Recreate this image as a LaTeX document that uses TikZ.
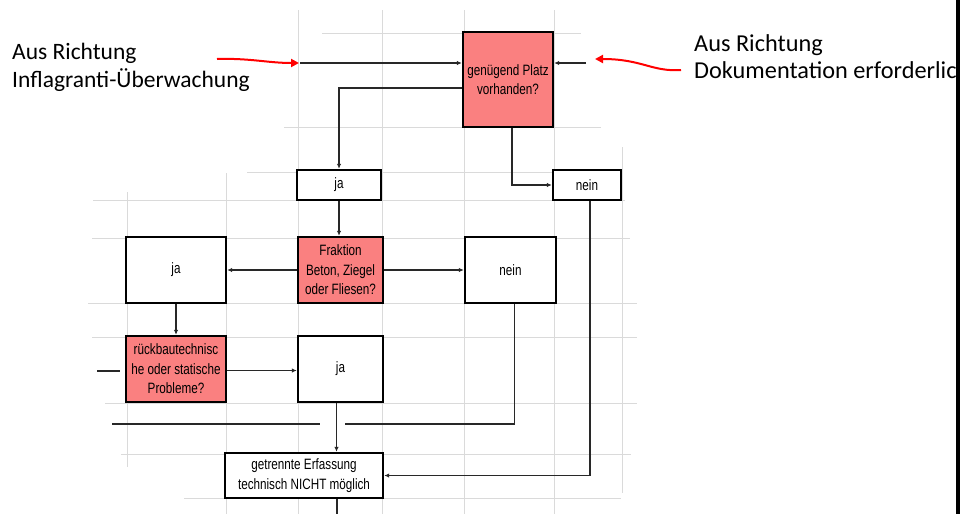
\documentclass[tikz,border=0pt]{standalone}
\usepackage{fontspec}
\setmainfont{Carlito}
\newfontfamily\boxfont[FakeStretch=0.78]{Liberation Sans}
\usetikzlibrary{arrows.meta}
\definecolor{feldrot}{RGB}{250,128,128}
\definecolor{gitter}{RGB}{218,218,218}
\definecolor{strich}{RGB}{40,40,40}

\begin{document}
\begin{tikzpicture}[x=1pt,y=-1pt,
	kasten/.style={draw=black,line width=2.4pt,fill=white,inner sep=0pt,align=center,
		font=\boxfont\fontsize{15}{19.5}\selectfont},
	frage/.style={kasten,fill=feldrot},
	pfeil/.style={draw=strich,line width=1.1pt,-{Latex[length=5pt,width=4.5pt]}},
	strecke/.style={draw=strich,line width=1.1pt},
	rotpfeil/.style={draw=red,line width=2pt,-{Triangle[length=8pt,width=8pt]}},
	beschriftung/.style={align=left,anchor=base west,inner sep=0pt}]
	
	\useasboundingbox (0,0) rectangle (965,514);
	
	% grid
	\foreach \x/\ya/\yb in {127/192/467, 226/173/514, 298/10/514, 382/10/514, 464/10/514, 554/10/514, 622/147/493}
		\draw[gitter,line width=1pt] (\x,\ya) -- (\x,\yb);
	\foreach \y/\xa/\xb in {33/322/581, 127/284/601, 172/247/623, 200/93/625, 238/92/630, 303/88/637, 337/92/637, 403/105/637, 454/121/631, 498/184/621}
		\draw[gitter,line width=1pt] (\xa,\y) -- (\xb,\y);
	
	\node[frage]  (platz)    at (508,79.5)  [minimum width=90pt,minimum height=95pt] {genügend Platz\\vorhanden?};
	\node[kasten] (ja1)      at (339,185)   [minimum width=84pt,minimum height=30pt] {ja};
	\node[kasten] (nein1)    at (587,185)   [minimum width=68pt,minimum height=30pt] {nein};
	\node[frage]  (fraktion) at (340.5,270) [minimum width=85pt,minimum height=66pt] {Fraktion\\Beton, Ziegel\\oder Fliesen?};
	\node[kasten] (ja2)      at (176,270)   [minimum width=100pt,minimum height=66pt] {ja};
	\node[kasten] (nein2)    at (510.5,270) [minimum width=91pt,minimum height=66pt] {nein};
	\node[frage]  (rueck)    at (176,369)   [minimum width=100pt,minimum height=66pt] {rückbautechnisc\\he oder statische\\Probleme?};
	\node[kasten] (ja3)      at (340.5,369) [minimum width=85pt,minimum height=66pt] {ja};
	\node[kasten] (getrennt) at (304,475.5) [minimum width=158pt,minimum height=45pt] {getrennte Erfassung\\technisch NICHT möglich};
	
	\coordinate (vonLinks)  at (300,63);
	\coordinate (vonRechts) at (586,63);
	\coordinate (stubA)     at (97,371);
	\coordinate (stubB)     at (120,371);
	\coordinate (querL)     at (112,424);
	\coordinate (querM)     at (320,424);
	\coordinate (querR)     at (345,424);
	\coordinate (ausgang)   at (337,514);
	
	\draw[pfeil] (vonLinks) -- (vonLinks -| platz.west);
	\draw[pfeil] (vonRechts) -- (vonRechts -| platz.east);
	\draw[pfeil] ([yshift=-8.5pt]platz.west) -| (ja1.north);
	\draw[pfeil] ([xshift=4pt]platz.south) |- (nein1.west);
	\draw[pfeil] (ja1.south) -- (ja1.south |- fraktion.north);
	\draw[pfeil] (fraktion.west) -- (ja2.east);
	\draw[pfeil] (fraktion.east) -- (nein2.west);
	\draw[pfeil] (ja2.south) -- (rueck.north);
	\draw[pfeil] ([yshift=-1.5pt]rueck.east) -- ([yshift=-1.5pt]ja3.west);
	\draw[strecke] (stubA) -- (stubB);
	\draw[pfeil] ([xshift=-4pt]ja3.south) -- ([xshift=-4pt]ja3.south |- getrennt.north);
	\draw[strecke] ([xshift=4pt]nein2.south) |- (querR);
	\draw[strecke] (querL) -- (querM);
	\draw[pfeil] ([xshift=3pt]nein1.south) |- (getrennt.east);
	\draw[strecke] (getrennt.south -| ausgang) -- (ausgang);
	
	% labels
	\node[beschriftung,font=\fontsize{23.5}{28}\selectfont] (links)  at (12,87)  {Aus Richtung\\Inflagranti-Überwachung};
	\node[beschriftung,font=\fontsize{24.3}{27}\selectfont] (rechts) at (694,78) {Aus Richtung\\Dokumentation erforderlich};
	
	\coordinate (rotL) at (217,59);
	\coordinate (rotLspitze) at (299,63);
	\coordinate (rotR) at (681,70);
	\coordinate (rotRspitze) at (595,59);
	\draw[rotpfeil] (rotL) .. controls (250,58) and (268,63) .. (rotLspitze);
	\draw[rotpfeil] (rotR) .. controls (652,72) and (642,59) .. (rotRspitze);
	
	% right edge
	\fill[white] (956,0) rectangle (965,514);
	\fill[black] (956,0) rectangle (959.5,514);
	
\end{tikzpicture}
\end{document}
